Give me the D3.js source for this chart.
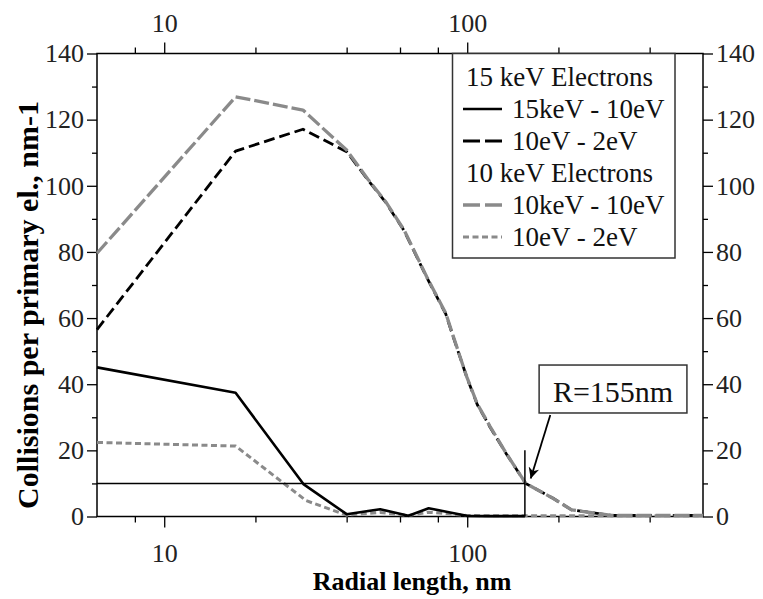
<!DOCTYPE html>
<html>
<head>
<meta charset="utf-8">
<script src="https://cdnjs.cloudflare.com/ajax/libs/d3/7.8.5/d3.min.js"></script>
<style>
    body { margin: 0; background: #fff; }
    svg { display: block; font-family: "Liberation Serif", "Times New Roman", serif; }
</style>
</head>
<body>
<div id="chart"></div>
<script>
/** data */
// upper curves (10keV-10eV gray, 15keV 10eV-2eV black dashed)
var radiusHigh = [6, 17.2, 28.7, 40, 47, 54, 62, 73.5, 85, 90, 99.6, 108, 119, 134.5, 156, 192, 221, 261, 300, 600];
var gray10keV = [79.6, 126.9, 122.9, 110.8, 102, 95, 86.5, 72.5, 61.4, 54.4, 42.3, 34, 27.2, 19.1, 10.0, 5.5, 2.0, 1.1, 0.3, 0.3];
var black10eV = [56.5, 110.5, 117.1, 110.3, 101.8, 94.8, 86.3, 72.3, 61.2, 54.2, 42.2, 33.8, 27.0, 19.0, 10.0, 5.5, 2.0, 1.1, 0.3, 0.3];
// lower curves
var radiusSolid = [6, 17.2, 28.8, 40, 51.6, 64, 74.6, 87, 99.6, 120, 155];
var black15keV = [45.1, 37.4, 9.8, 0.7, 2.2, 0.2, 2.5, 1.3, 0.2, 0.1, 0.1];
var radiusGray2 = [6, 17.2, 29.4, 40, 51.6, 64, 74.6, 87, 99.6, 120, 600];
var gray10eV = [22.4, 21.3, 4.8, 0.4, 1.2, 0.3, 1.3, 0.8, 0.3, 0.2, 0.2];

var xMajor = [10, 100];
var xMinor = [8, 20, 40, 60, 80, 200, 400];
var yMajor = [0, 20, 40, 60, 80, 100, 120, 140];
var yMinor = [10, 30, 50, 70, 90, 110, 130];

var legendRows = [
    { label: "15 keV Electrons", key: null },
    { label: "15keV - 10eV", key: "solid" },
    { label: "10eV - 2eV", key: "blackDash" },
    { label: "10 keV Electrons", key: null },
    { label: "10keV - 10eV", key: "grayLong" },
    { label: "10eV - 2eV", key: "grayShort" }
];

// annotation, in data units
var rMark = 155, rLevel = 10, rTop = 20;

/** styles */
var styles = {
    solid:     { color: "#000", width: 2.6, dash: null, legendDash: null },
    blackDash: { color: "#000", width: 2.8, dash: "11,5", legendDash: "17,5" },
    grayLong:  { color: "#8a8a8a", width: 3.3, dash: "15,4", legendDash: "17,5" },
    grayShort: { color: "#8a8a8a", width: 3, dash: "6,3.5", legendDash: "6,3.5" }
};

function drawChart() {
    var W = 763, H = 599;
    var pLeft = 97, pRight = 703, pTop = 53.5, pBottom = 516.5;
    var fontSize = 26;

    var svg = d3.select("#chart").append("svg")
        .attr("width", W).attr("height", H);

    svg.append("rect").attr("width", W).attr("height", H).attr("fill", "#fff");

    var x = d3.scaleLog().domain([6, 600]).range([pLeft, pRight]);
    var y = d3.scaleLinear().domain([0, 140]).range([pBottom, pTop]);

    /** axes */
    function styleAxis(g) {
        g.select(".domain").remove();
        g.selectAll(".tick line").attr("stroke", "#000").attr("stroke-width", 1.3);
        g.selectAll(".tick text").attr("font-size", fontSize).attr("fill", "#222")
            .attr("font-family", "Liberation Serif, serif");
    }

    svg.append("g").attr("transform", "translate(0," + pBottom + ")")
        .call(d3.axisBottom(x).tickValues(xMinor).tickSize(6).tickFormat(""))
        .call(styleAxis);
    svg.append("g").attr("transform", "translate(0," + pBottom + ")")
        .call(d3.axisBottom(x).tickValues(xMajor).tickSize(11).tickPadding(16).tickFormat(d3.format("d")))
        .call(styleAxis);
    svg.append("g").attr("transform", "translate(0," + pTop + ")")
        .call(d3.axisTop(x).tickValues(xMinor).tickSize(6).tickFormat(""))
        .call(styleAxis);
    svg.append("g").attr("transform", "translate(0," + pTop + ")")
        .call(d3.axisTop(x).tickValues(xMajor).tickSize(11).tickPadding(11).tickFormat(d3.format("d")))
        .call(styleAxis);

    svg.append("g").attr("transform", "translate(" + pLeft + ",0)")
        .call(d3.axisLeft(y).tickValues(yMinor).tickSize(5).tickFormat(""))
        .call(styleAxis);
    svg.append("g").attr("transform", "translate(" + pLeft + ",0)")
        .call(d3.axisLeft(y).tickValues(yMajor).tickSize(10).tickPadding(3))
        .call(styleAxis);
    svg.append("g").attr("transform", "translate(" + pRight + ",0)")
        .call(d3.axisRight(y).tickValues(yMinor).tickSize(5).tickFormat(""))
        .call(styleAxis);
    svg.append("g").attr("transform", "translate(" + pRight + ",0)")
        .call(d3.axisRight(y).tickValues(yMajor).tickSize(10).tickPadding(3))
        .call(styleAxis);

    // frame
    svg.append("rect")
        .attr("x", pLeft).attr("y", pTop)
        .attr("width", pRight - pLeft).attr("height", pBottom - pTop)
        .attr("fill", "none").attr("stroke", "#000").attr("stroke-width", 1.5);

    /** curves */
    var line = d3.line().x(function (d) { return x(d[0]); }).y(function (d) { return y(d[1]); });

    function drawSeries(xs, ys, st) {
        svg.append("path")
            .datum(d3.zip(xs, ys))
            .attr("d", line)
            .attr("fill", "none")
            .attr("stroke", st.color)
            .attr("stroke-width", st.width)
            .attr("stroke-dasharray", st.dash)
            .attr("stroke-linejoin", "round");
    }

    drawSeries(radiusHigh, black10eV, styles.blackDash);
    drawSeries(radiusGray2, gray10eV, styles.grayShort);
    drawSeries(radiusSolid, black15keV, styles.solid);
    drawSeries(radiusHigh, gray10keV, styles.grayLong);

    /** R=155nm marker */
    svg.append("line")
        .attr("x1", x(6)).attr("x2", x(rMark))
        .attr("y1", y(rLevel)).attr("y2", y(rLevel))
        .attr("stroke", "#000").attr("stroke-width", 1.5);
    svg.append("line")
        .attr("x1", x(rMark)).attr("x2", x(rMark))
        .attr("y1", y(0)).attr("y2", y(rTop))
        .attr("stroke", "#000").attr("stroke-width", 1.5);

    svg.append("defs").append("marker")
        .attr("id", "head")
        .attr("viewBox", "0 0 10 10")
        .attr("refX", 10).attr("refY", 5)
        .attr("markerWidth", 7).attr("markerHeight", 6)
        .attr("markerUnits", "strokeWidth")
        .attr("orient", "auto")
        .append("path").attr("d", "M0,0L10,5L0,10L3,5Z").attr("fill", "#000");

    svg.append("line")
        .attr("x1", x(188)).attr("y1", y(30.7))
        .attr("x2", x(162)).attr("y2", y(11.5))
        .attr("stroke", "#000").attr("stroke-width", 1.8)
        .attr("marker-end", "url(#head)");

    svg.append("rect")
        .attr("x", x(172.7)).attr("y", y(45.8))
        .attr("width", x(531) - x(172.7)).attr("height", y(31.3) - y(45.8))
        .attr("fill", "#fff").attr("stroke", "#333").attr("stroke-width", 1.5);
    svg.append("text")
        .attr("x", (x(172.7) + x(531)) / 2).attr("y", y(31.3) - 11)
        .attr("text-anchor", "middle")
        .attr("font-size", 30).attr("fill", "#111")
        .text("R=155nm");

    /** legend */
    var lg = svg.append("g");
    lg.append("rect")
        .attr("x", 452.5).attr("y", pTop)
        .attr("width", 222.5).attr("height", 258 - pTop)
        .attr("fill", "#fff").attr("stroke", "#333").attr("stroke-width", 1.5);

    legendRows.forEach(function (row, i) {
        var cy = 77 + i * 32;
        if (row.key === null) {
            lg.append("text").attr("x", 466).attr("y", cy + 9)
                .attr("font-size", 27).attr("fill", "#111").text(row.label);
        } else {
            var st = styles[row.key];
            lg.append("line")
                .attr("x1", 463).attr("x2", 502).attr("y1", cy).attr("y2", cy)
                .attr("stroke", st.color).attr("stroke-width", st.width)
                .attr("stroke-dasharray", st.legendDash);
            lg.append("text").attr("x", 512).attr("y", cy + 9)
                .attr("font-size", 27).attr("fill", "#111").text(row.label);
        }
    });

    /** axis titles */
    svg.append("text")
        .attr("x", 412).attr("y", 590)
        .attr("text-anchor", "middle")
        .attr("font-size", 26).attr("font-weight", "bold")
        .text("Radial length, nm");

    svg.append("text")
        .attr("transform", "translate(38,305) rotate(-90)")
        .attr("text-anchor", "middle")
        .attr("font-size", 30).attr("font-weight", "bold")
        .text("Collisions per primary el., nm-1");
}

drawChart();
</script>
</body>
</html>
